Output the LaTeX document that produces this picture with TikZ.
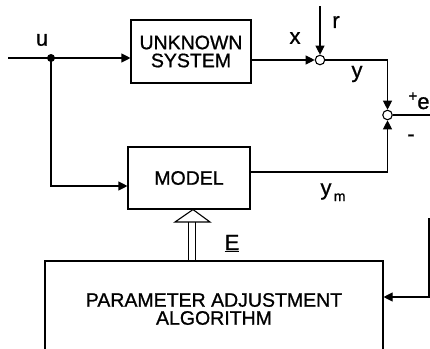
\documentclass[tikz,border=0pt]{standalone}
\usepackage{fontspec}
\setmainfont{Liberation Sans}[FakeBold=0.9]
\usetikzlibrary{arrows.meta}
\begin{document}
\begin{tikzpicture}[x=1pt,y=-1pt,
  line width=1.1pt,
  every node/.style={inner sep=0pt},
  blk/.style={draw,rectangle,font=\fontsize{19.5}{21}\selectfont,align=center},
  sumj/.style={draw,circle,minimum size=9.5pt,fill=white},
  lbl/.style={font=\fontsize{22}{24}\selectfont},
  tip/.style={-{Triangle[length=9pt,width=9pt]}}]
\useasboundingbox (0,0) rectangle (430,348);
\clip (0,0) rectangle (430,348);
% blocks
\node[blk,minimum width=120pt,minimum height=63pt] (sys) at (191,51.5) {UNKNOWN\\[-3pt]SYSTEM};
\node[blk,minimum width=122pt,minimum height=62pt] (model) at (189,178) {MODEL};
\node[blk,minimum width=338pt,minimum height=96pt] (param) at (214,309) {PARAMETER ADJUSTMENT\\[-3pt]ALGORITHM};
% junctions
\node[sumj] (s1) at (320,60) {};
\node[sumj] (s2) at (387.5,115) {};
\coordinate (in) at (8,58);
\coordinate (dot) at (51,58);
\coordinate (rtop) at (320,6);
\coordinate (ycorner) at (387.5,60);
\coordinate (ymcorner) at (387.5,172);
\coordinate (eend) at (432,115);
\coordinate (fbtop) at (429,218);
\coordinate (fbcorner) at (429,297);
\coordinate (modcorner) at (51,186);
% connectors
\draw[tip] (in) -- (sys.west |- in);
\fill (dot) circle (4pt);
\draw[tip] (dot) -- (modcorner) -- (model.west |- modcorner);
\draw[tip] (sys.east |- s1) -- (s1.west);
\draw[tip] (rtop) -- (s1.north);
\draw[tip] (s1.east) -- (ycorner) -- (s2.north);
\draw[tip] (model.east |- ymcorner) -- (ymcorner) -- (s2.south);
\draw (s2.east) -- (eend);
\draw[tip] (fbtop) -- (fbcorner) -- (param.east |- fbcorner);
% hollow parameter arrow
\coordinate (apex) at (model.south -| 193,0);
\coordinate (tl) at (175,222);
\coordinate (tr) at (210,222);
\draw[line join=miter] (tl) -- (apex) -- (tr) -- cycle;
\draw (188.5,222) -- (param.north -| 188.5,0);
\draw (195.5,222) -- (param.north -| 195.5,0);
% labels
\node[lbl] (lu) at (42,40) {u};
\node[lbl] (lx) at (295,38) {x};
\node[lbl] (lr) at (336,22) {r};
\node[lbl] (ly) at (357,74) {y};
\node[lbl,anchor=base west] (le) at (408,109) {\raisebox{8pt}{\fontsize{15}{15}\selectfont+}e};
\node[lbl] (lm) at (411,138) {-};
\node[lbl,anchor=base] (lym) at (333,195) {y\raisebox{-6pt}{\fontsize{14}{14}\selectfont\,m}};
\node[lbl,anchor=base] (lE) at (232,250) {\underline{E}};
\end{tikzpicture}
\end{document}
